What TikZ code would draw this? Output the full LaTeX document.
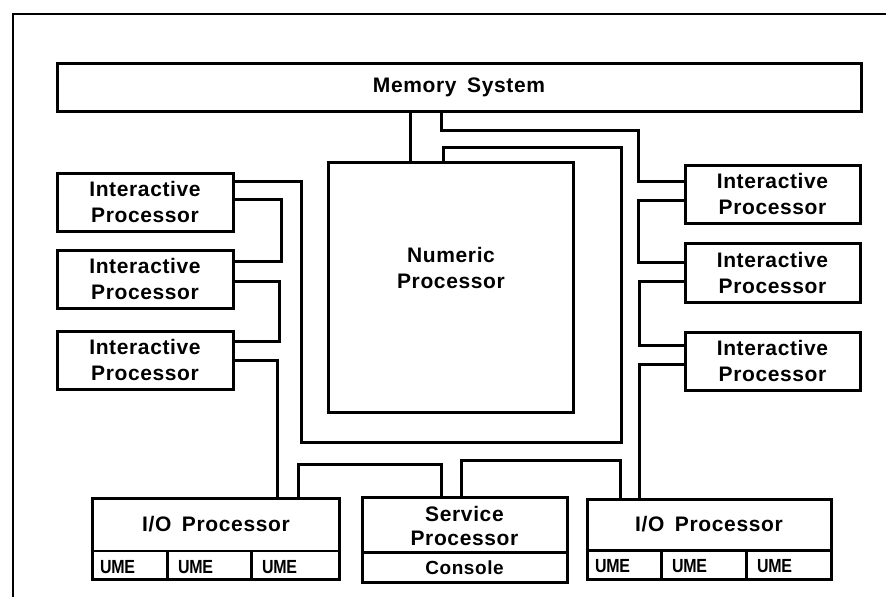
\documentclass[tikz,border=0pt]{standalone}
\usepackage{fontspec}
\setmainfont{Liberation Sans}
\newfontfamily\lblfont[LetterSpace=3]{Liberation Sans}
\newfontfamily\umefont[FakeStretch=0.84,LetterSpace=-2]{Liberation Sans}
\usetikzlibrary{calc}
\tikzset{
  blk/.style={draw, rectangle, line width=3pt, inner sep=0pt, align=center,
    font=\lblfont\bfseries\fontsize{21}{26}\selectfont},
  txt/.style={inner sep=0pt, align=center,
    font=\lblfont\bfseries\fontsize{21}{26}\selectfont},
  ume/.style={inner sep=0pt, font=\umefont\bfseries\fontsize{19}{20}\selectfont},
  wire/.style={line width=3pt},
  thin/.style={line width=2.4pt},
}
\begin{document}
\begin{tikzpicture}[x=1pt,y=-1pt]
\fill[white] (0,0) rectangle (886,597);
\useasboundingbox (0,0) rectangle (886,597);

% page frame
\draw[line width=2.6pt] (886,14) -- (13,14) -- (13,597);

% memory and numeric processor
\node[blk, minimum width=804pt, minimum height=48pt] (Mem) at (459,87) {Memory\hspace{0.5em}System};
\node[blk, minimum width=245pt, minimum height=250pt] (NP) at (450.5,287) {};
\node[txt] (NPt) at (451,268) {Numeric\\Processor};

% interactive processors, left column
\node[blk, minimum width=176pt, minimum height=58pt] (L1) at (145,202) {Interactive\\Processor};
\node[blk, minimum width=176pt, minimum height=58pt] (L2) at (145,279) {Interactive\\Processor};
\node[blk, minimum width=176pt, minimum height=58pt] (L3) at (145,360) {Interactive\\Processor};

% interactive processors, right column
\node[blk, minimum width=175pt, minimum height=58pt] (R1) at (772.5,194) {Interactive\\Processor};
\node[blk, minimum width=175pt, minimum height=59pt] (R2) at (772.5,272.5) {Interactive\\Processor};
\node[blk, minimum width=175pt, minimum height=58pt] (R3) at (772.5,361) {Interactive\\Processor};

% I/O processors and service processor
\node[blk, minimum width=247pt, minimum height=81pt] (IOL) at (215.5,539) {};
\node[blk, minimum width=205pt, minimum height=85pt] (SP) at (464.5,539.5) {};
\node[blk, minimum width=244pt, minimum height=80pt] (IOR) at (709,539) {};

\node[txt] (IOLt) at (216,524) {I/O\hspace{0.5em}Processor};
\node[txt] (IORt) at (709,524) {I/O\hspace{0.5em}Processor};
\node[txt, font=\lblfont\bfseries\fontsize{21}{24}\selectfont] (SPt) at (464.5,526) {Service\\Processor};

% UME rows and console row
\draw[thin] ($(IOL.north west)+(0,54)$) -- ($(IOL.north east)+(0,54)$);
\draw[thin] ($(IOL.north west)+(77,54)$) -- ($(IOL.south west)+(77,0)$);
\draw[thin] ($(IOL.north west)+(161,54)$) -- ($(IOL.south west)+(161,0)$);
\draw[thin] ($(IOR.north west)+(0,53)$) -- ($(IOR.north east)+(0,53)$);
\draw[thin] ($(IOR.north west)+(76,53)$) -- ($(IOR.south west)+(76,0)$);
\draw[thin] ($(IOR.north west)+(161,53)$) -- ($(IOR.south west)+(161,0)$);
\draw[thin] ($(SP.north west)+(0,57)$) -- ($(SP.north east)+(0,57)$);

\node[ume, anchor=west] (U1) at (100,567) {UME};
\node[ume, anchor=west] (U2) at (178,567) {UME};
\node[ume, anchor=west] (U3) at (262,567) {UME};
\node[ume, anchor=west] (U4) at (595,566) {UME};
\node[ume, anchor=west] (U5) at (672,566) {UME};
\node[ume, anchor=west] (U6) at (757,566) {UME};
\node[txt, font=\lblfont\bfseries\fontsize{19}{20}\selectfont] (Con) at (464.5,568) {Console};

% memory connections
\draw[wire] ($(Mem.south west)+(355,0)$) -- ($(NP.north west)+(84,0)$);
\draw[wire] ($(Mem.south west)+(386,0)$) |- (638,130) |- ($(R1.north west)+(0,18)$);

% numeric processor loop bus to the first left processor
\draw[wire] ($(NP.north west)+(117,0)$) |- (621,147) -- (621,442) -| (301,180) |- ($(L1.north east)+(0,10)$);

% left column chain
\draw[wire] ($(L1.north east)+(0,28)$) -- ++(47,0) |- ($(L2.north east)+(0,13)$);
\draw[wire] ($(L2.north east)+(0,33)$) -- ++(45,0) |- ($(L3.north east)+(0,12)$);
\draw[wire] ($(L3.north east)+(0,31)$) -| ($(IOL.north west)+(187,0)$);

% right column chain
\draw[wire] ($(R1.north west)+(0,37)$) -- ++(-45,0) |- ($(R2.north west)+(0,21)$);
\draw[wire] ($(R2.north west)+(0,40)$) -- ++(-44,0) |- ($(R3.north west)+(0,15)$);
\draw[wire] ($(R3.north west)+(0,34)$) -| ($(IOR.north west)+(54,0)$);

% service processor links
\draw[wire] ($(IOL.north west)+(208,0)$) -- ++(0,-33) -| ($(SP.north west)+(81,0)$);
\draw[wire] ($(SP.north west)+(101,0)$) -- ++(0,-35) -| ($(IOR.north west)+(35,0)$);
\end{tikzpicture}
\end{document}
